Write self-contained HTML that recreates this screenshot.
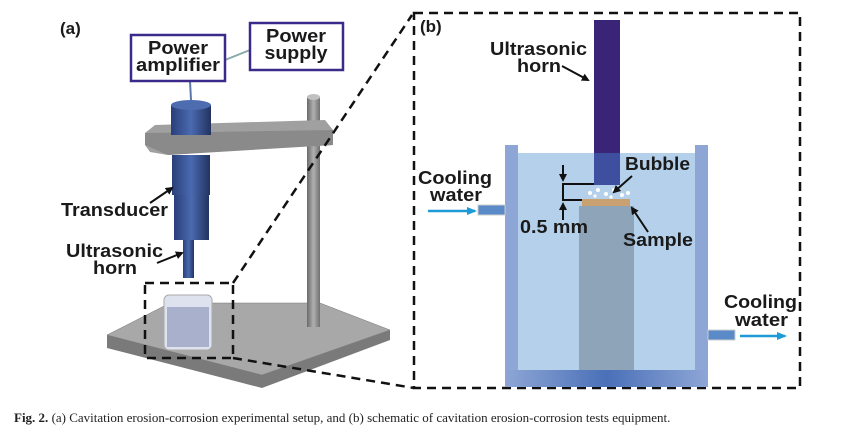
<!DOCTYPE html>
<html><head><style>
body{margin:0;background:#fff;width:861px;height:433px;overflow:hidden}
svg{position:absolute;left:0;top:0}
text{font-family:"Liberation Sans",sans-serif;font-weight:bold;fill:#1a1a1a}
.cap{font-family:"Liberation Serif",serif;font-weight:normal;font-size:13px;fill:#222}
</style></head><body>
<svg width="861" height="433" viewBox="0 0 861 433">
<defs>
<linearGradient id="cyl" x1="0" x2="1"><stop offset="0" stop-color="#2a3f7a"/><stop offset=".5" stop-color="#4a6ab0"/><stop offset="1" stop-color="#22335f"/></linearGradient>
<linearGradient id="rod" x1="0" x2="1"><stop offset="0" stop-color="#6a6a6a"/><stop offset=".5" stop-color="#b0b0b0"/><stop offset="1" stop-color="#707070"/></linearGradient>
<linearGradient id="wall" x1="0" x2="1"><stop offset="0" stop-color="#8ea6d6"/><stop offset=".5" stop-color="#4a70b8"/><stop offset="1" stop-color="#8ea6d6"/></linearGradient>
<marker id="ah" markerWidth="8" markerHeight="8" refX="6" refY="4" orient="auto" markerUnits="userSpaceOnUse"><path d="M0,0 L8,4 L0,8 z" fill="#111"/></marker>
<marker id="bh" markerWidth="10" markerHeight="8" refX="8" refY="4" orient="auto" markerUnits="userSpaceOnUse"><path d="M0,0 L10,4 L0,8 z" fill="#1e9ad6"/></marker>
</defs>
<text x="60" y="34" font-size="17">(a)</text>
<line x1="190" y1="81" x2="191" y2="100" stroke="#5a78a8" stroke-width="2"/>
<line x1="225" y1="60" x2="250" y2="50" stroke="#8aa" stroke-width="2"/>
<rect x="131" y="35" width="94" height="46" fill="#fff" stroke="#3b2a8a" stroke-width="2.5"/>
<text x="178" y="54" font-size="18" text-anchor="middle" textLength="60" lengthAdjust="spacingAndGlyphs">Power</text>
<text x="178" y="71" font-size="18" text-anchor="middle" textLength="84" lengthAdjust="spacingAndGlyphs">amplifier</text>
<rect x="250" y="23" width="93" height="47" fill="#fff" stroke="#3b2a8a" stroke-width="2.5"/>
<text x="296" y="42" font-size="18" text-anchor="middle" textLength="60" lengthAdjust="spacingAndGlyphs">Power</text>
<text x="296" y="59" font-size="18" text-anchor="middle" textLength="63" lengthAdjust="spacingAndGlyphs">supply</text>
<polygon points="107,335 262,375 390,330 390,340 262,388 107,348" fill="#7a7a7a"/>
<polygon points="107,335 170,303 320,303 390,330 262,375" fill="#a8a8a8" stroke="#777" stroke-width=".5"/>
<rect x="307" y="97" width="13" height="230" fill="url(#rod)"/>
<ellipse cx="313.5" cy="97" rx="6.5" ry="3" fill="#c0c0c0"/>
<polygon points="145,133 155,125 325,120 333,130 333,145 240,150 168,155 150,152 145,145" fill="#a0a0a0"/>
<polygon points="145,133 333,130 333,145 168,155 145,145" fill="#8a8a8a"/>
<rect x="171" y="105" width="40" height="30" fill="url(#cyl)"/>
<ellipse cx="191" cy="105" rx="20" ry="5" fill="#4e6cb0"/>
<rect x="172" y="155" width="38" height="40" fill="url(#cyl)"/>
<rect x="174" y="195" width="35" height="45" fill="url(#cyl)"/>
<rect x="183" y="240" width="11" height="38" fill="url(#cyl)"/>
<rect x="164" y="295" width="48" height="55" rx="5" fill="#dde2ee" stroke="#aaa"/>
<rect x="167" y="307" width="42" height="40" fill="#a8b0cc"/>
<text x="61" y="216" font-size="18" textLength="107" lengthAdjust="spacingAndGlyphs">Transducer</text>
<line x1="150" y1="203" x2="172" y2="188" stroke="#111" stroke-width="2" marker-end="url(#ah)"/>
<text x="66" y="257" font-size="18" textLength="97" lengthAdjust="spacingAndGlyphs">Ultrasonic</text>
<text x="93" y="274" font-size="18" textLength="44" lengthAdjust="spacingAndGlyphs">horn</text>
<line x1="157" y1="263" x2="182" y2="253" stroke="#111" stroke-width="2" marker-end="url(#ah)"/>
<g stroke="#111" stroke-width="2.5" stroke-dasharray="9,6" fill="none">
<rect x="145" y="283" width="88" height="75"/>
<line x1="233" y1="283" x2="412" y2="15"/>
<line x1="233" y1="358" x2="414" y2="388"/>
<rect x="414" y="13" width="386" height="375"/>
</g>
<text x="420" y="32" font-size="17">(b)</text>
<rect x="505" y="145" width="13" height="242" fill="#8ea6d6"/>
<rect x="695" y="145" width="13" height="242" fill="#8ea6d6"/>
<rect x="505" y="370" width="203" height="17" fill="url(#wall)"/>
<rect x="518" y="153" width="177" height="217" fill="#b5d0ea"/>
<rect x="579" y="206" width="55" height="164" fill="#8ea4b8"/>
<rect x="594" y="20" width="26" height="133" fill="#3a2478"/>
<rect x="594" y="153" width="26" height="32" fill="#3f4fa0"/>
<rect x="582" y="199" width="48" height="7" fill="#c9a070"/>
<g fill="#fff"><circle cx="590" cy="193" r="2"/><circle cx="598" cy="190" r="2"/><circle cx="606" cy="194" r="2"/><circle cx="614" cy="190" r="2"/><circle cx="622" cy="195" r="2"/><circle cx="628" cy="193" r="2"/><circle cx="595" cy="196" r="1.6"/><circle cx="611" cy="197" r="1.6"/></g>
<rect x="478" y="205" width="27" height="10" fill="#5a8ac8" stroke="#ccc"/>
<rect x="708" y="330" width="27" height="10" fill="#5a8ac8" stroke="#ccc"/>
<line x1="428" y1="211" x2="475" y2="211" stroke="#1e9ad6" stroke-width="2.5" marker-end="url(#bh)"/>
<line x1="740" y1="336" x2="785" y2="336" stroke="#1e9ad6" stroke-width="2.5" marker-end="url(#bh)"/>
<text x="418" y="184" font-size="18" textLength="74" lengthAdjust="spacingAndGlyphs">Cooling</text>
<text x="430" y="201" font-size="18" textLength="52" lengthAdjust="spacingAndGlyphs">water</text>
<text x="724" y="308" font-size="18" textLength="73" lengthAdjust="spacingAndGlyphs">Cooling</text>
<text x="735" y="326" font-size="18" textLength="53" lengthAdjust="spacingAndGlyphs">water</text>
<text x="490" y="55" font-size="18" textLength="97" lengthAdjust="spacingAndGlyphs">Ultrasonic</text>
<text x="517" y="72" font-size="18" textLength="44" lengthAdjust="spacingAndGlyphs">horn</text>
<line x1="562" y1="66" x2="588" y2="80" stroke="#111" stroke-width="2" marker-end="url(#ah)"/>
<text x="625" y="170" font-size="18" textLength="65" lengthAdjust="spacingAndGlyphs">Bubble</text>
<line x1="632" y1="176" x2="614" y2="192" stroke="#111" stroke-width="2" marker-end="url(#ah)"/>
<text x="623" y="246" font-size="18" textLength="70" lengthAdjust="spacingAndGlyphs">Sample</text>
<line x1="648" y1="232" x2="632" y2="208" stroke="#111" stroke-width="2" marker-end="url(#ah)"/>
<g stroke="#111" stroke-width="2" fill="none">
<polyline points="594,184 563,184 563,200 582,200"/>
<line x1="563" y1="165" x2="563" y2="180" marker-end="url(#ah)"/>
<line x1="563" y1="220" x2="563" y2="204" marker-end="url(#ah)"/>
</g>
<text x="520" y="233" font-size="18" textLength="68" lengthAdjust="spacingAndGlyphs">0.5 mm</text>
<text x="14" y="422" class="cap"><tspan font-weight="bold">Fig. 2.</tspan> (a) Cavitation erosion-corrosion experimental setup, and (b) schematic of cavitation erosion-corrosion tests equipment.</text>
</svg>
</body></html>
